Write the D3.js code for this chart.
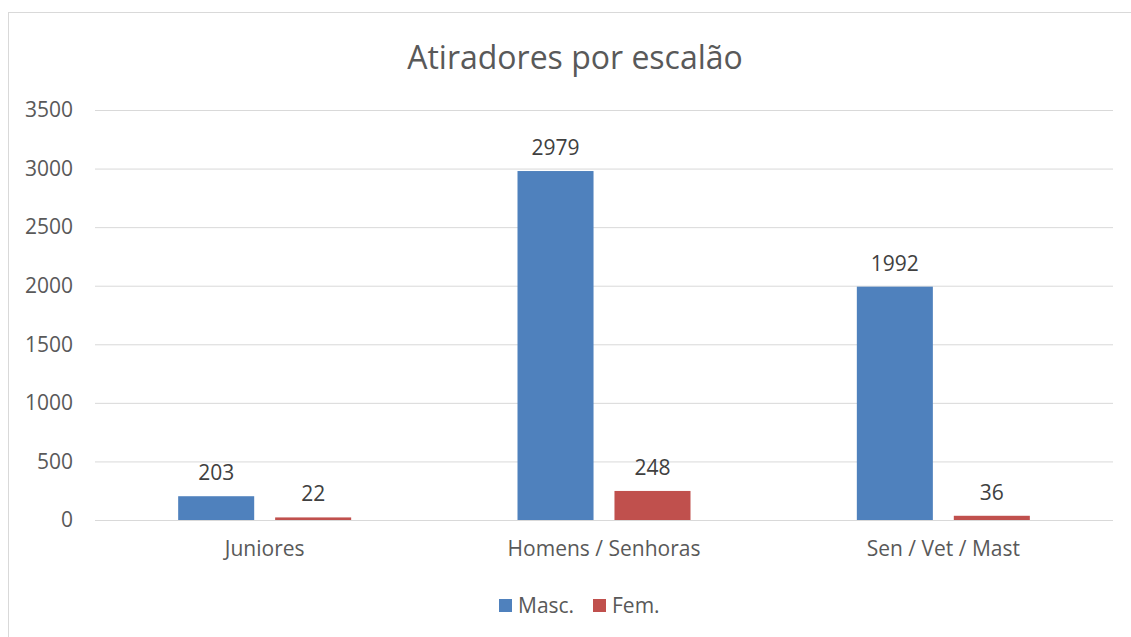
<!DOCTYPE html>
<html>
<head>
<meta charset="utf-8">
<script src="https://cdn.jsdelivr.net/npm/d3@7"></script>
<style>
  body { margin: 0; background: #fff; }
  svg { display: block; font-family: "Open Sans", sans-serif; }
</style>
</head>
<body>
<svg width="1131" height="637"></svg>
<script>
var categories = ["Juniores", "Homens / Senhoras", "Sen / Vet / Mast"],
    seriesNames = ["Masc.", "Fem."],
    masc = [203, 2979, 1992],
    fem = [22, 248, 36],
    yTicks = [0, 500, 1000, 1500, 2000, 2500, 3000, 3500],
    colors = ["#4f81bd", "#c0504d"];

var svg = d3.select("svg"),
    margin = {top: 110, right: 18, bottom: 117, left: 95},
    width = +svg.attr("width") - margin.left - margin.right,
    height = +svg.attr("height") - margin.top - margin.bottom;

// chart frame
svg.append("rect")
    .attr("x", 8.5).attr("y", 12.5)
    .attr("width", 1140).attr("height", 640)
    .attr("fill", "none")
    .attr("stroke", "#d9d9d9");

svg.append("text")
    .attr("x", 575).attr("y", 69)
    .attr("text-anchor", "middle")
    .attr("font-size", 32)
    .attr("fill", "#595959")
    .text("Atiradores por escalão");

var g = svg.append("g").attr("transform", "translate(" + margin.left + "," + margin.top + ")");

var x0 = d3.scaleBand()
    .domain(categories)
    .range([0, width]);

var x1 = d3.scaleBand()
    .domain(seriesNames)
    .range([x0.bandwidth() / 2 - 86.5, x0.bandwidth() / 2 + 86.5])
    .paddingInner(0.216);

var y = d3.scaleLinear()
    .domain([0, 3500])
    .range([height, 0]);

var yAxis = g.append("g")
    .call(d3.axisLeft(y).tickValues(yTicks).tickFormat(d3.format("d"))
        .tickSize(-width).tickPadding(22));
yAxis.select(".domain").remove();
yAxis.selectAll("line").attr("stroke", "#d9d9d9");
yAxis.selectAll("text").attr("font-size", 21).attr("fill", "#595959")
    .attr("font-family", "Open Sans");

var xAxis = g.append("g")
    .attr("transform", "translate(0," + height + ")")
    .call(d3.axisBottom(x0).tickSize(0).tickPadding(21));
xAxis.select(".domain").remove();
xAxis.selectAll("text").attr("font-size", 21).attr("fill", "#595959")
    .attr("font-family", "Open Sans");

var rows = categories.map(function(c, i) {
    return {cat: c, vals: [{s: "Masc.", v: masc[i]}, {s: "Fem.", v: fem[i]}]};
});

var groups = g.selectAll(".cat")
    .data(rows)
  .enter().append("g")
    .attr("transform", function(d) { return "translate(" + x0(d.cat) + ",0)"; });

groups.selectAll("rect")
    .data(function(d) { return d.vals; })
  .enter().append("rect")
    .attr("x", function(d) { return x1(d.s); })
    .attr("width", x1.bandwidth())
    .attr("y", function(d) { return y(d.v); })
    .attr("height", function(d) { return height - y(d.v); })
    .attr("fill", function(d, i) { return colors[i]; });

groups.selectAll(".lbl")
    .data(function(d) { return d.vals; })
  .enter().append("text")
    .attr("class", "lbl")
    .attr("x", function(d) { return x1(d.s) + x1.bandwidth() / 2; })
    .attr("y", function(d) { return y(d.v) - 16; })
    .attr("text-anchor", "middle")
    .attr("font-size", 21)
    .attr("fill", "#404040")
    .text(function(d) { return d.v; });

// legend
var legend = svg.append("g").attr("transform", "translate(499,599)");
var li = legend.selectAll("g")
    .data(seriesNames)
  .enter().append("g")
    .attr("transform", function(d, i) { return "translate(" + (i * 94) + ",0)"; });
li.append("rect")
    .attr("width", 13).attr("height", 13)
    .attr("fill", function(d, i) { return colors[i]; });
li.append("text")
    .attr("x", 19).attr("y", 14)
    .attr("font-size", 21)
    .attr("fill", "#595959")
    .text(function(d) { return d; });
</script>
</body>
</html>
